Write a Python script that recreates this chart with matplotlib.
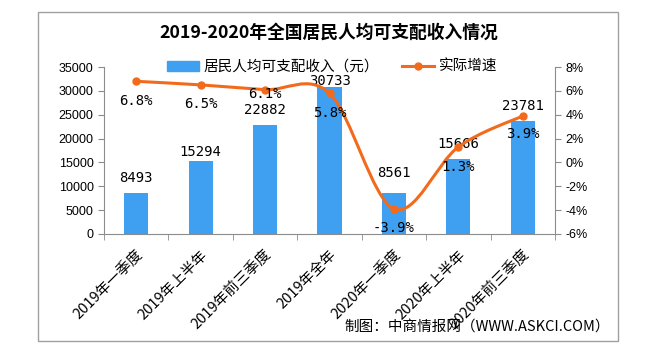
import matplotlib.pyplot as plt
from matplotlib.path import Path
from matplotlib.patches import PathPatch, Patch, Rectangle
from matplotlib.lines import Line2D
import numpy as np

plt.rcParams['font.family'] = ['Noto Sans CJK SC', 'DejaVu Sans']

categories = ['2019年一季度', '2019年上半年', '2019年前三季度', '2019年全年',
              '2020年一季度', '2020年上半年', '2020年前三季度']
income = [8493, 15294, 22882, 30733, 8561, 15666, 23781]
growth = [6.8, 6.5, 6.1, 5.8, -3.9, 1.3, 3.9]
income_ticks = [0, 5000, 10000, 15000, 20000, 25000, 30000, 35000]
growth_ticks = [-6, -4, -2, 0, 2, 4, 6, 8]

# label offsets in pixels (bar labels above bar top, growth labels below point)
bar_label_dy = [15, 9, 15, 6, 20, 15, 15]
growth_label_dy = [20, 19, 4, 20, 19, 20, 18]

bar_color = '#3F9FF0'
line_color = '#F26B1D'
axis_gray = '#8C8C8C'

W, H = 646, 360
px2pt = 0.72
fig = plt.figure(figsize=(W / 100, H / 100), dpi=100)

# outer frame
fig.patches.append(Rectangle((38 / W, 1 - 341 / H), 580 / W, 329 / H,
                             transform=fig.transFigure, fill=False,
                             edgecolor='#A0A0A0', linewidth=1))

ax = fig.add_axes([104 / W, 1 - 234 / H, 451 / W, 167 / H])
ax2 = ax.twinx()

x = np.arange(len(categories))
ax.bar(x, income, width=0.375, color=bar_color, zorder=2)
for xi, v, dy in zip(x, income, bar_label_dy):
    ax.annotate(str(v), (xi, v), xytext=(0, dy * px2pt), textcoords='offset points',
                ha='center', va='center', fontsize=10, family='DejaVu Sans Mono')

ax.set_xlim(-0.5, len(categories) - 0.5)
ax.set_ylim(0, 35000)
ax.set_yticks(income_ticks)
ax.set_yticklabels([str(t) for t in income_ticks], fontsize=9, family='Liberation Sans')
ax.set_xticks(x)
ax.set_xticklabels(categories, rotation=45, ha='right', va='top',
                   rotation_mode='anchor', fontsize=10.5)
ax.tick_params(axis='x', length=0, pad=10)
ax.set_xticks(np.arange(-0.5, len(categories)), minor=True)
ax.tick_params(axis='x', which='minor', length=4, color=axis_gray)
ax.tick_params(axis='y', length=4, color=axis_gray)

# smoothed growth line (catmull-rom style bezier through the points)
px = list(x.astype(float))
py = list(growth)
verts = [(px[0], py[0])]
codes = [Path.MOVETO]
n = len(px)
for i in range(n - 1):
    x0, y0 = (px[i - 1], py[i - 1]) if i > 0 else (px[i], py[i])
    x1, y1 = px[i], py[i]
    x2, y2 = px[i + 1], py[i + 1]
    x3, y3 = (px[i + 2], py[i + 2]) if i + 2 < n else (px[i + 1], py[i + 1])
    verts += [(x1 + (x2 - x0) / 6, y1 + (y2 - y0) / 6),
              (x2 - (x3 - x1) / 6, y2 - (y3 - y1) / 6),
              (x2, y2)]
    codes += [Path.CURVE4] * 3
ax2.add_patch(PathPatch(Path(verts, codes), fill=False, edgecolor=line_color,
                        linewidth=2.2, zorder=3))
ax2.plot(x, growth, linestyle='none', marker='o', markersize=5,
         color=line_color, zorder=4)
for xi, v, dy in zip(x, growth, growth_label_dy):
    ax2.annotate(f'{v}%', (xi, v), xytext=(0, -dy * px2pt), textcoords='offset points',
                 ha='center', va='center', fontsize=10, family='DejaVu Sans Mono',
                 zorder=5)

ax2.set_ylim(-6, 8)
ax2.set_yticks(growth_ticks)
ax2.set_yticklabels([f'{t}%' for t in growth_ticks], fontsize=9, family='Liberation Sans')
ax2.tick_params(axis='y', length=4, color=axis_gray)

for a in (ax, ax2):
    a.spines['top'].set_visible(False)
    for s in ('left', 'right', 'bottom'):
        a.spines[s].set_color(axis_gray)
ax.spines['right'].set_visible(False)
ax2.spines['left'].set_visible(False)
ax2.spines['bottom'].set_visible(False)

handles = [Patch(color=bar_color),
           Line2D([], [], color=line_color, linewidth=2.2, marker='o', markersize=5)]
fig.legend(handles, ['居民人均可支配收入（元）', '实际增速'],
           loc='center', bbox_to_anchor=(332 / W, 1 - 67 / H), ncol=2,
           frameon=False, fontsize=10.5, handlelength=2.2, columnspacing=1.6,
           handletextpad=0.3)

fig.text(329 / W, 1 - 33 / H, '2019-2020年全国居民人均可支配收入情况',
         ha='center', va='center', fontsize=12.8, fontweight='bold')
fig.text(610 / W, 1 - 327 / H, '制图：中商情报网（WWW.ASKCI.COM）',
         ha='right', va='center', fontsize=10.5)

fig.savefig('out.png', dpi=100)
